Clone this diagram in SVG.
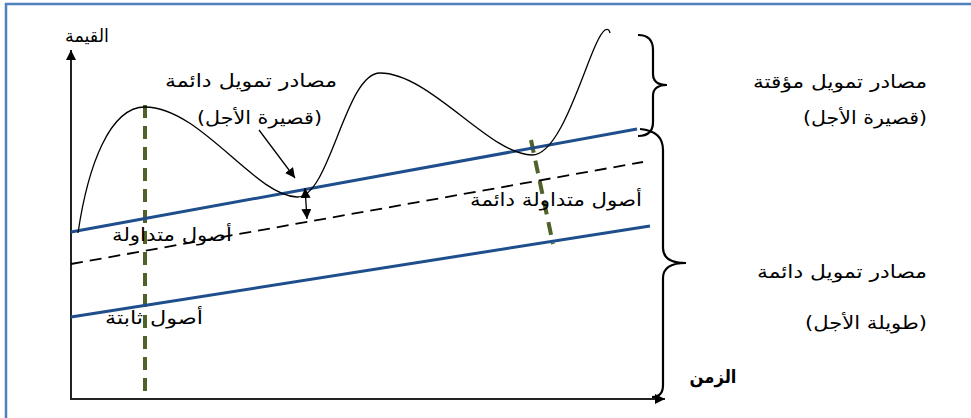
<svg xmlns="http://www.w3.org/2000/svg" width="971" height="418" viewBox="0 0 971 418">
<defs>
<marker id="ah" viewBox="0 0 10 10" refX="10" refY="5" markerWidth="10" markerHeight="10" markerUnits="userSpaceOnUse" orient="auto-start-reverse">
<path d="M0,0 L10,5 L0,10 Z" fill="#000"/>
</marker>
<style>
.lbl{font-family:"DejaVu Sans","Liberation Sans",sans-serif;font-size:18px;fill:#000;text-anchor:middle;direction:rtl;}
.bold{font-weight:bold;}
.axis{stroke:#222;stroke-width:2;fill:none;}
.blue{stroke:#1F4E8C;stroke-width:3;fill:none;}
.green{stroke:#4F6228;stroke-width:4;stroke-dasharray:13 8;fill:none;}
.dash{stroke:#000;stroke-width:1.8;stroke-dasharray:12 7;fill:none;}
.brace{stroke:#000;stroke-width:2.2;fill:none;}
.thin{stroke:#000;stroke-width:1.3;fill:none;}
</style>
</defs>
<rect x="6" y="4" width="1000" height="500" fill="#fff" stroke="#4F81BD" stroke-width="2.5"/>

<g id="axes">
<line class="axis" x1="71" y1="399" x2="71" y2="50" marker-end="url(#ah)"/>
<line class="axis" x1="70" y1="399" x2="665" y2="399" marker-end="url(#ah)"/>
</g>

<g id="guides">
<line class="green" x1="145" y1="105" x2="145" y2="398"/>
<line class="green" x1="531" y1="140" x2="553" y2="244"/>
</g>

<g id="lines">
<line id="current-line" class="blue" x1="71" y1="232" x2="637" y2="129"/>
<line id="perm-current-line" class="dash" x1="71" y1="264" x2="643" y2="162"/>
<line id="fixed-line" class="blue" x1="71" y1="317" x2="650" y2="226"/>
</g>

<g id="curve">
<path class="thin" d="M78,233 C88,165 110,107 145,107 C200,107 255,196 297,197 C330,198 345,73 380,73 C430,73 490,155 532,155 C565,155 590,40 605,30 Q609,28 610,33"/>
</g>

<g id="connectors">
<line class="thin" x1="259" y1="130" x2="295" y2="178" marker-end="url(#ah)"/>
<line class="thin" x1="305" y1="188" x2="307" y2="219" marker-start="url(#ah)" marker-end="url(#ah)"/>
</g>

<g id="braces">
<path class="brace" d="M638,35 Q653,35 653,50 L653,74 Q653,85 667,85 Q653,85 653,96 L653,122 Q653,136 638,136"/>
<path class="brace" d="M640,129 Q663,131 663,150 L663,248 Q663,263 686,263 Q663,263 663,278 L663,385 Q663,397 652,397"/>
</g>

<g id="labels">
<text class="lbl" x="87" y="42" font-size="16" textLength="44" lengthAdjust="spacingAndGlyphs">القيمة</text>
<text class="lbl" x="251" y="87" textLength="172" lengthAdjust="spacingAndGlyphs">مصادر تمويل دائمة</text>
<text class="lbl" x="259.5" y="124" textLength="125" lengthAdjust="spacingAndGlyphs">(قصيرة الأجل)</text>
<text class="lbl" x="840" y="88" textLength="174" lengthAdjust="spacingAndGlyphs">مصادر تمويل مؤقتة</text>
<text class="lbl" x="865" y="124" textLength="124" lengthAdjust="spacingAndGlyphs">(قصيرة الأجل)</text>
<text class="lbl" x="556" y="206" textLength="172" lengthAdjust="spacingAndGlyphs">أصول متداولة دائمة</text>
<text class="lbl" x="172" y="241" textLength="120" lengthAdjust="spacingAndGlyphs">أصول متداولة</text>
<text class="lbl" x="154" y="324" textLength="98" lengthAdjust="spacingAndGlyphs">أصول ثابتة</text>
<text class="lbl" x="842" y="278" textLength="170" lengthAdjust="spacingAndGlyphs">مصادر تمويل دائمة</text>
<text class="lbl" x="866" y="329" textLength="122" lengthAdjust="spacingAndGlyphs">(طويلة الأجل)</text>
<text class="lbl bold" x="713" y="383" font-size="17" textLength="47" lengthAdjust="spacingAndGlyphs">الزمن</text>
</g>
</svg>
